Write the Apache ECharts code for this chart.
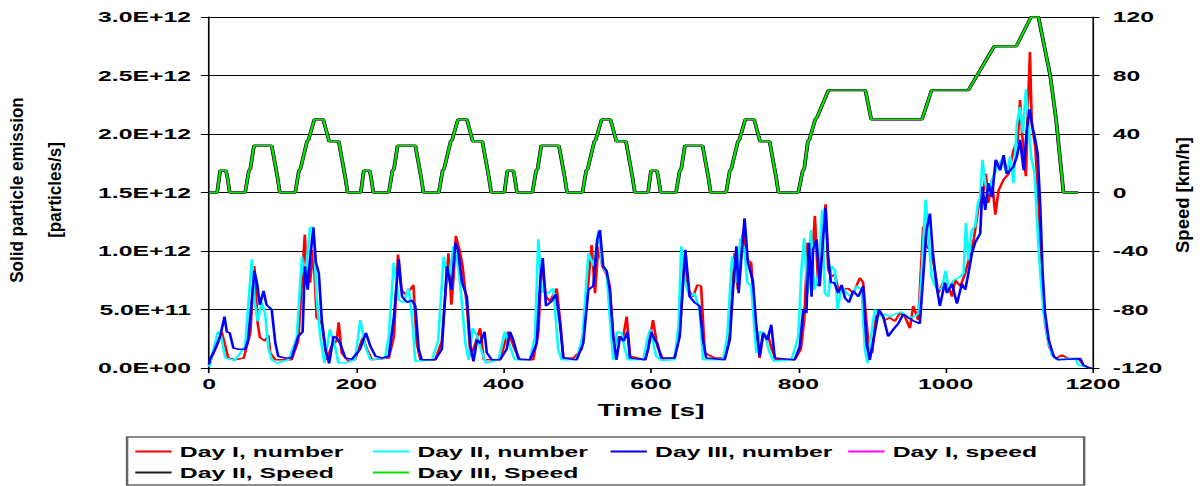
<!DOCTYPE html>
<html>
<head>
<meta charset="utf-8">
<script src="https://cdn.jsdelivr.net/npm/echarts@6/dist/echarts.min.js"></script>
<style>
  html, body { margin: 0; padding: 0; background: #fff; overflow: hidden; }
  /* the reference is a chart stretched sideways, so draw narrow and stretch */
  #chart { width: 729px; height: 486px; transform: scaleX(1.6502); transform-origin: 0 0; }
</style>
</head>
<body>
<div id="chart"></div>
<script>
// particle number, [time s, value in 1e11 particles/s]
const day1Number = [
  [0,0.2],[1,0.5],[13,2.3],[17,3.1],[22,1.9],[26,0.85],[35,0.7],[47,0.85],[56,3.0],[61.5,8.7],[66,3.8],[69,2.6],[76,2.3],[80.5,2.8],[83,1.3],[90,0.7],[112,0.7],[121,2.3],[130,11.4],[132.6,7.8],[137,7.3],[141.6,10.1],[146,4.3],[153,3.8],[160,0.7],[166,1.85],[173,2.3],[176,3.9],[180,1.3],[189,0.6],
  [198,0.7],[208.6,2.6],[214.5,1.6],[221,0.7],[244,0.85],[251,2.7],[256.5,9.7],[261,6.7],[266.5,6.3],[272,6.6],[277.4,7.1],[282,2.1],[287,0.65],[307,0.7],[316,2.3],[325,9.8],[329,5.4],[332,7.8],[335,11.3],[340,10.1],[344,8.8],[350,5.3],[355,1.0],[361.5,2.1],[368,3.4],[373,0.7],
  [395,0.7],[406,3.1],[415,1.6],[422,0.7],[440,0.7],[447,3.0],[451.6,9.0],[457.4,6.1],[463,5.7],[472,6.8],[477,3.8],[481,0.85],[494.5,0.85],[506,1.6],[513.6,6.4],[519.4,10.5],[524,6.4],[528.5,10.4],[534,8.7],[539.8,8.0],[544,7.0],[549.7,1.6],[555.6,2.7],[561.5,2.4],[567,4.4],[571.5,1.0],
  [592,0.7],[596,1.6],[602.7,4.1],[608.6,1.85],[616,0.77],[632,0.85],[639,3.0],[645.7,9.3],[650,6.7],[657,6.1],[663,7.1],[668,7.0],[673,1.3],[686.4,0.85],[700,0.85],[707,3.1],[713.5,9.8],[718,6.7],[724.9,11.5],[729.4,9.3],[736,9.0],[740.7,4.4],[747.5,0.85],[752,2.7],[758.8,2.8],[764,1.6],[770,0.7],
  [795,0.7],[803.5,1.6],[808,4.1],[812.6,10.7],[817,7.8],[822.5,13.0],[827,7.0],[831.6,10.7],[837,14.0],[840.6,8.4],[845,7.8],[849.7,8.0],[854.2,6.7],[861,6.7],[867.8,6.8],[874.6,6.4],[883.6,7.7],[888,7.3],[892.7,3.8],[897,1.3],[900.4,1.3],[905,4.4],[910.8,4.7],[917.6,4.1],[924.4,4.3],[931,4.0],[938,4.7],[944.7,4.4],[951.5,3.4],[956,5.3],[962.8,4.1],[969.6,12.1],[974,10.4],[978.7,10.1],[984.5,8.7],[990,6.4],[996.8,7.3],
  [1004,7.0],[1008.6,6.1],[1013,7.5],[1020,7.0],[1026.7,8.1],[1033.5,9.8],[1038,10.9],[1044.8,13.8],[1051.6,15.2],[1054.7,16.6],[1058,14.1],[1063,16.1],[1067.4,13.1],[1072,15.2],[1078.7,16.1],[1085.5,16.6],[1092,18.6],[1098,19.5],[1101,22.9],[1106,18.1],[1109,16.4],[1111.7,22.3],[1114.5,27.0],[1117,20.9],[1121.7,18.9],[1126,14.4],[1130.7,7.5],[1135,3.8],[1140.7,1.8],[1148.8,0.8],[1158,1.1],[1167,0.8],[1180.5,0.8],[1187,0.25],[1194,0.05],[1198,0]
];
const day2Number = [
  [0,0.1],[1,0.3],[12,3.1],[16,2.8],[22,0.85],[35,0.65],[49,1.85],[58,9.3],[62,5.6],[66,4.0],[71.5,5.6],[76,4.7],[80.5,1.7],[85,0.7],[92,0.43],[108,0.7],[119,2.6],[126,9.5],[130,7.3],[137,12.0],[141.6,12.0],[146,6.1],[151,2.7],[156.6,0.43],[164,3.3],[171,1.85],[175.6,0.43],[184.6,0.43],
  [198,0.7],[202,2.5],[205.4,4.1],[212,1.85],[219,0.7],[239,0.85],[244,2.7],[250.7,9.0],[257.5,5.8],[264,5.6],[271,6.8],[275.5,4.4],[280,0.57],[302.7,0.7],[311,2.3],[318.5,9.5],[325,7.5],[332,10.4],[336.6,9.5],[341,7.1],[348,2.1],[352.5,0.7],[358,3.4],[364,2.7],[370.6,1.3],[376,0.43],
  [393,0.7],[401.5,3.1],[408.6,1.85],[415,0.7],[435.7,0.7],[442.5,2.7],[447,11.0],[451.6,6.7],[458,6.3],[467.4,6.8],[474,1.6],[478.7,0.7],[499,0.7],[507,2.7],[515,9.8],[522.6,8.7],[528.5,11.7],[533,9.0],[539.8,8.1],[544,4.4],[548.8,0.7],[554,3.1],[560,3.0],[564.7,1.6],[569,0.7],
  [589.6,0.7],[595,2.5],[599,3.3],[607,1.0],[614,0.65],[632,0.7],[637.5,3.8],[641,10.4],[646.6,7.3],[652.5,6.1],[659,6.4],[666,5.0],[670.6,0.7],[697.7,0.7],[703.6,2.7],[710,9.5],[716,7.3],[721.7,11.1],[727,10.1],[730.7,7.3],[736,7.0],[743,1.3],[747.5,3.1],[754,3.0],[761,1.3],[767,0.57],
  [790.5,0.7],[797,2.0],[800,2.7],[804.5,8.7],[808,11.1],[812.6,6.4],[817,11.8],[821.6,6.7],[827,7.8],[832.5,13.5],[836,6.4],[840.6,6.1],[845,8.7],[849.7,8.4],[853.3,5.0],[858.7,7.0],[865.5,6.4],[872.3,6.1],[879,7.0],[885.9,6.7],[890.4,1.6],[894,0.43],[898.6,2.7],[904,5.0],[910.8,4.4],[917.6,4.6],[924.4,4.4],[931,4.6],[940,4.8],[949.3,4.3],[958.3,4.4],[963.7,4.7],[967.3,7.8],[972.8,14.4],[976.4,11.5],[981,7.8],[985.4,7.0],[994.5,6.7],
  [1000,8.3],[1004.5,6.7],[1010.8,7.5],[1020,7.8],[1024.4,8.1],[1027.6,12.4],[1031,9.2],[1035.7,11.8],[1040,12.1],[1043.9,14.1],[1047,14.6],[1050,17.8],[1053.8,15.8],[1058,14.9],[1063,16.1],[1069.7,17.2],[1076.4,17.8],[1083,16.6],[1087.8,18.1],[1092,15.8],[1096.8,20.9],[1101,22.3],[1105,20.1],[1109,23.8],[1112.6,20.9],[1116,18.1],[1120.8,16.6],[1125,11.5],[1128.5,8.1],[1133,4.7],[1139,2.4],[1144.3,1.1],[1151,0.7],[1162.4,0.8],[1176,0.8],[1180.5,0.25],[1189.6,0.1],[1196,0.03]
];
const day3Number = [
  [0,0.3],[1,0.7],[8,1.6],[15,2.7],[21,4.4],[24,3.1],[28,3.0],[33,1.7],[40,1.6],[49,1.6],[53,2.4],[58,5.8],[61.5,8.3],[65,7.3],[69,5.4],[74,6.6],[78,5.4],[85,5.0],[90,2.1],[94,1.0],[103,0.85],[112,0.85],[121,2.7],[127,3.1],[130,8.7],[134,6.7],[137,9.3],[141.6,12.0],[145,9.0],[149,8.1],[153,4.1],[158,1.6],[163,0.4],[169,2.7],[173,2.6],[178,2.1],[185,0.85],
  [194,0.75],[205,1.6],[213,3.0],[219,1.85],[226,1.0],[235,0.85],[244,1.0],[251,4.4],[257.5,9.3],[262,6.1],[269,5.6],[275.5,5.8],[280,5.3],[284.6,1.6],[289,0.7],[307,0.7],[316,1.6],[323,8.7],[329,6.7],[334.4,10.7],[338,10.1],[343.4,7.3],[350,6.1],[354.7,1.85],[359,0.57],[363.8,2.4],[368,2.1],[374,3.1],[377,1.3],[384,0.7],
  [395,0.7],[404,1.6],[408.6,3.1],[413,2.4],[420,0.77],[435.7,0.7],[444.8,2.1],[450,7.8],[453,9.4],[457.4,5.3],[465,5.7],[471,6.3],[476.4,3.8],[481,0.85],[499,0.7],[508,2.1],[515,6.7],[521.7,7.0],[527,11.0],[530.7,11.8],[535,8.7],[539.8,8.3],[544,6.7],[548.8,2.7],[553,0.7],[558,2.7],[563,2.3],[568,3.1],[571.5,0.85],
  [592,0.7],[596,1.6],[600.4,3.1],[605,2.4],[608.6,2.1],[614,0.85],[632,0.85],[639,2.7],[643.4,7.3],[646.6,10.1],[652.5,6.1],[659,5.6],[666,5.3],[670.6,2.4],[675,0.85],[700,0.7],[707,2.4],[711,6.4],[716,10.4],[719,6.4],[723.5,10.1],[727,12.8],[731.6,9.0],[738.4,7.4],[743,3.6],[747.5,1.0],[752,3.0],[758,2.4],[763.3,3.7],[768,0.85],
  [795,0.7],[802,1.85],[806.7,5.0],[811,4.7],[814.4,10.7],[818,6.1],[820,10.1],[824.8,11.0],[829,7.0],[833.9,11.3],[837,13.7],[840.6,9.5],[844.3,7.3],[848.8,7.3],[854.2,6.4],[858.7,7.1],[863.3,6.0],[868.7,5.6],[874.6,6.6],[881.4,6.1],[888,7.0],[892.7,2.1],[897,0.7],[903,2.7],[909.4,5.0],[915.3,4.4],[922,2.7],[929,3.3],[935.7,3.8],[942.5,4.6],[949.3,4.3],[957,4.0],[965,3.8],[969.6,7.8],[974,11.8],[978.7,13.2],[982.3,10.1],[987.7,7.0],[992.2,5.3],[999,7.3],
  [1001.8,6.4],[1008.6,7.2],[1015.4,5.5],[1022,7.2],[1026.7,6.7],[1031,8.1],[1035.7,9.8],[1040,10.7],[1047,11.5],[1050,15.5],[1053.8,13.5],[1058,15.8],[1063,14.6],[1068,17.8],[1074,16.9],[1078.7,18.2],[1083,16.6],[1087.8,16.9],[1092,17.2],[1096.8,18.1],[1101,19.5],[1106,16.9],[1110,20.3],[1114,22.1],[1118,20.6],[1121.7,19.5],[1125,18.3],[1128.5,13.8],[1131.7,8.1],[1135,4.7],[1140,2.4],[1146.6,1.0],[1153,0.7],[1167,0.75],[1183,0.8],[1187,0.25],[1194,0.03],[1198,0]
];

// vehicle speed [km/h]; the three days follow the same driving cycle, so their curves coincide
const speedTime = [
  0,11,15,23,25,28,49,54,56,61,85,93,96,117,122,124,133,135,143,155,163,176,185,188,
  195,206,210,218,220,223,244,249,251,256,280,288,291,312,317,319,328,330,338,350,358,371,380,383,
  390,401,405,413,415,418,439,444,446,451,475,483,486,507,512,514,523,525,533,545,553,566,575,578,
  585,596,600,608,610,613,634,639,641,646,670,678,681,702,707,709,718,720,728,740,748,761,770,773,
  780,800,806,808,813,815,823,825,841,891,899,968,981,1031,1066,1096,1116,1126,1142,1150,1160,1180
];
const speedKmh = [
  0,0,15,15,10,0,0,15,16,32,32,10,0,0,15,16,35,36,50,50,35,35,10,0,
  0,0,15,15,10,0,0,15,16,32,32,10,0,0,15,16,35,36,50,50,35,35,10,0,
  0,0,15,15,10,0,0,15,16,32,32,10,0,0,15,16,35,36,50,50,35,35,10,0,
  0,0,15,15,10,0,0,15,16,32,32,10,0,0,15,16,35,36,50,50,35,35,10,0,
  0,0,15,16,35,36,50,51,70,70,50,50,70,70,100,100,120,120,80,50,0,0
];

const seriesNames = ['Day I, number', 'Day II, number', 'Day III, number', 'Day I, speed', 'Day II, Speed', 'Day III, Speed'];
const seriesColors = ['#ff0000', '#00ffff', '#0000ff', '#ff00ff', '#1a1a1a', '#00e600'];

const FONT = '"Liberation Sans", Arial, sans-serif';

function sciLabel(v) {
  if (v === 0) return '0.0E+00';
  const parts = v.toExponential(1).split('e');
  const n = parseInt(parts[1], 10);
  return parts[0] + 'E' + (n < 0 ? '-' : '+') + String(Math.abs(n)).padStart(2, '0');
}

const numberSets = [day1Number, day2Number, day3Number];
const speedPoints = speedTime.map((t, i) => [t, speedKmh[i]]);

const series = [];
for (let i = 0; i < 3; i++) {
  series.push({
    name: seriesNames[i],
    type: 'line',
    yAxisIndex: 0,
    symbol: 'none',
    lineStyle: { color: seriesColors[i], width: 1.6 },
    itemStyle: { color: seriesColors[i] },
    data: numberSets[i].map(p => [p[0], p[1] * 1e11]),
  });
}
const speedWidths = [2.0, 2.3, 1.4];
for (let i = 0; i < 3; i++) {
  series.push({
    name: seriesNames[i + 3],
    type: 'line',
    yAxisIndex: 1,
    symbol: 'none',
    lineStyle: { color: seriesColors[i + 3], width: speedWidths[i] },
    itemStyle: { color: seriesColors[i + 3] },
    data: speedPoints,
  });
}

const chart = echarts.init(document.getElementById('chart'), null, { renderer: 'svg' });

const axisText = { color: '#000', fontFamily: FONT, fontWeight: 'bold', fontSize: 15 };

chart.setOption({
  animation: false,
  backgroundColor: '#fff',
  grid: { left: 126.7, right: 66.7, top: 17, bottom: 118 },
  legend: {
    data: seriesNames,
    left: 77,
    top: 437,
    width: 584,
    orient: 'horizontal',
    padding: [7, 5, 5, 5],
    icon: 'rect',
    itemWidth: 22,
    itemHeight: 2,
    itemGap: 6,
    borderColor: '#666',
    borderWidth: 1.5,
    backgroundColor: '#fff',
    textStyle: { color: '#000', fontFamily: FONT, fontWeight: 'bold', fontSize: 15, width: 111, lineHeight: 15 },
  },
  xAxis: {
    type: 'value',
    min: 0,
    max: 1200,
    interval: 200,
    name: 'Time [s]',
    nameLocation: 'middle',
    nameGap: 34,
    nameTextStyle: { color: '#000', fontFamily: FONT, fontWeight: 'bold', fontSize: 17 },
    axisLine: { lineStyle: { color: '#000', width: 1 } },
    axisTick: { length: 5, lineStyle: { color: '#000' } },
    axisLabel: Object.assign({ margin: 8, formatter: v => String(v) }, axisText),
    splitLine: { show: false },
  },
  yAxis: [
    {
      type: 'value',
      min: 0,
      max: 3e12,
      interval: 5e11,
      axisLine: { show: true, lineStyle: { color: '#000', width: 1 } },
      axisTick: { show: true, length: 5, lineStyle: { color: '#000' } },
      axisLabel: Object.assign({ margin: 11, formatter: sciLabel }, axisText),
      splitLine: { show: true, lineStyle: { color: '#000', width: 1 } },
    },
    {
      type: 'value',
      position: 'right',
      min: -120,
      max: 120,
      interval: 40,
      axisLine: { show: true, lineStyle: { color: '#000', width: 1 } },
      axisTick: { show: true, length: 4, lineStyle: { color: '#000' } },
      axisLabel: Object.assign({ margin: 12, formatter: v => String(v) }, axisText),
      splitLine: { show: false },
    },
  ],
  graphic: [
    {
      type: 'text', x: 10.3, y: 190, rotation: Math.PI / 2, scaleX: 1.55,
      style: { text: 'Solid particle emission', fill: '#000', font: 'bold 11px ' + FONT,
        align: 'center', verticalAlign: 'middle', textAlign: 'center', textVerticalAlign: 'middle' },
    },
    {
      type: 'text', x: 33.3, y: 190, rotation: Math.PI / 2, scaleX: 1.55,
      style: { text: '[particles/s]', fill: '#000', font: 'bold 11px ' + FONT,
        align: 'center', verticalAlign: 'middle', textAlign: 'center', textVerticalAlign: 'middle' },
    },
    {
      type: 'text', x: 716.4, y: 195, rotation: Math.PI / 2, scaleX: 1.68,
      style: { text: 'Speed [km/h]', fill: '#000', font: 'bold 11px ' + FONT,
        align: 'center', verticalAlign: 'middle', textAlign: 'center', textVerticalAlign: 'middle' },
    },
  ],
  series: series,
});
</script>
</body>
</html>
